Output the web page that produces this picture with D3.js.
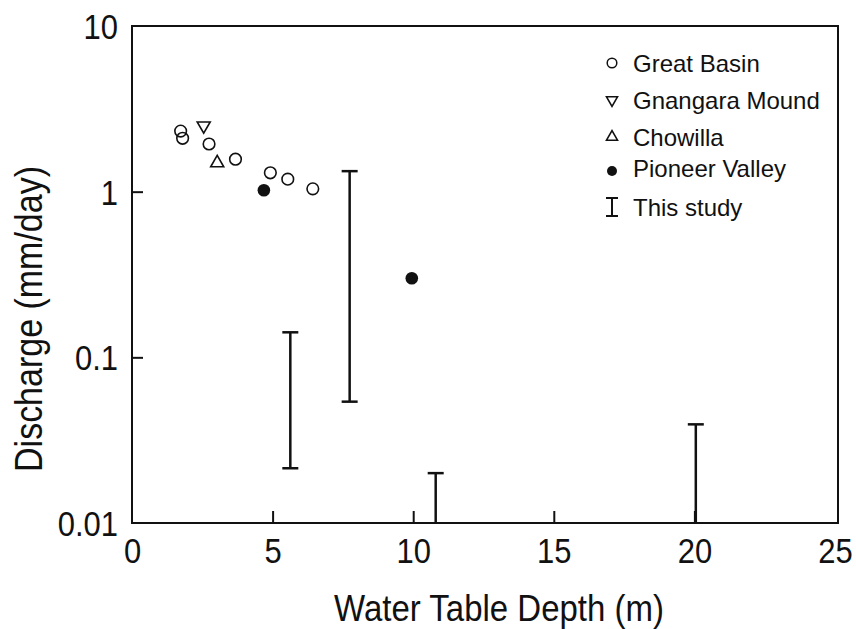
<!DOCTYPE html>
<html><head><meta charset="utf-8">
<script src="https://cdn.jsdelivr.net/npm/d3@7"></script>
<style>
html,body{margin:0;padding:0;background:#fff;}
text{font-family:"Liberation Sans",Arial,Helvetica,sans-serif;fill:#111;}
</style></head>
<body>
<svg id="c" width="856" height="629"></svg>
<script>
// ---- data ----
const greatBasinDepth = [1.73, 1.80, 2.74, 3.68, 4.92, 5.54, 6.43];
const greatBasinQ     = [2.32, 2.10, 1.94, 1.57, 1.30, 1.19, 1.04];
const gnangaraDepth = [2.55];
const gnangaraQ     = [2.50];
const chowillaDepth = [3.03];
const chowillaQ     = [1.49];
const pioneerDepth = [4.69, 9.95];
const pioneerQ     = [1.02, 0.30];
const studyDepth = [5.63, 7.74, 10.8, 20.05];
const studyLow   = [0.0214, 0.054, 0.01, 0.01];
const studyHigh  = [0.1416, 1.33, 0.020, 0.0394];
const xTicks = [0, 5, 10, 15, 20, 25];
const yTicks = [0.01, 0.1, 1, 10];
const yTickLabels = ["0.01", "0.1", "1", "10"];
const legendLabels = ["Great Basin", "Gnangara Mound", "Chowilla", "Pioneer Valley", "This study"];

// ---- layout ----
const L = 132, R = 838, T = 26, B = 523;
const S = 1.12; // vertical stretch of glyphs seen in the reference
const svg = d3.select("#c");
const x = d3.scaleLinear().domain([0, 25]).range([L, 835]);
const y = d3.scaleLog().domain([0.01, 10]).range([B, T]);

// frame
svg.append("rect").attr("x", L).attr("y", T).attr("width", R - L).attr("height", B - T)
  .attr("fill", "none").attr("stroke", "#111").attr("stroke-width", 2);

// x axis (ticks inward)
const xAxis = d3.axisBottom(x).tickValues(xTicks).tickFormat(d3.format("d")).tickSize(-12);
const gx = svg.append("g").attr("transform", `translate(0,${B})`).call(xAxis);
gx.select(".domain").remove();
gx.selectAll(".tick line").attr("stroke", "#111").attr("stroke-width", 2);
gx.selectAll(".tick text").attr("font-size", 31).attr("fill", "#111").attr("dy", "0.71em")
  .attr("y", 15 / S).attr("transform", `scale(1,${S})`);
gx.selectAll(".tick").filter(d => d === 0 || d === 25).select("line").remove();

// y axis
const yAxis = d3.axisLeft(y).tickValues(yTicks).tickFormat((d, i) => yTickLabels[i]).tickSize(-11).tickPadding(14);
const gy = svg.append("g").attr("transform", `translate(${L},0)`).call(yAxis);
gy.select(".domain").remove();
gy.selectAll(".tick line").attr("stroke", "#111").attr("stroke-width", 2);
gy.selectAll(".tick text").attr("font-size", 31).attr("fill", "#111").attr("dy", "0.36em")
  .attr("transform", `scale(1,${S})`);
gy.selectAll(".tick").filter(d => d === 0.01 || d === 10).select("line").remove();

// titles
svg.append("g").attr("transform", `translate(499,621) scale(1,${S})`)
  .append("text").attr("text-anchor", "middle").attr("font-size", 33).text("Water Table Depth (m)");
svg.append("g").attr("transform", `translate(42,319) rotate(-90) scale(1,${S})`)
  .append("text").attr("text-anchor", "middle").attr("font-size", 34).text("Discharge (mm/day)");

// symbols
function tri(g, cx, cy, s, down) {
  const h = s * Math.sqrt(3) / 2;
  const pts = down
    ? [[cx - s / 2, cy - h / 3], [cx + s / 2, cy - h / 3], [cx, cy + 2 * h / 3]]
    : [[cx - s / 2, cy + h / 3], [cx + s / 2, cy + h / 3], [cx, cy - 2 * h / 3]];
  g.append("path").attr("d", "M" + pts.map(p => p.join(",")).join("L") + "Z")
    .attr("fill", "#fff").attr("stroke", "#111").attr("stroke-width", 1.6);
}
const plot = svg.append("g");

// Great Basin open circles
plot.selectAll("circle.gb").data(greatBasinDepth).join("circle").attr("class", "gb")
  .attr("cx", d => x(d)).attr("cy", (d, i) => y(greatBasinQ[i])).attr("r", 5.8)
  .attr("fill", "none").attr("stroke", "#111").attr("stroke-width", 1.6);
// Gnangara (triangle down)
gnangaraDepth.forEach((d, i) => tri(plot, x(d), y(gnangaraQ[i]), 13, true));
// Chowilla (triangle up)
chowillaDepth.forEach((d, i) => tri(plot, x(d), y(chowillaQ[i]), 13, false));
// Pioneer filled
plot.selectAll("circle.pv").data(pioneerDepth).join("circle").attr("class", "pv")
  .attr("cx", d => x(d)).attr("cy", (d, i) => y(pioneerQ[i])).attr("r", 6.3).attr("fill", "#111");

// This study ranges
const bars = plot.selectAll("g.bar").data(studyDepth).join("g").attr("class", "bar");
bars.append("line").attr("x1", d => x(d)).attr("x2", d => x(d))
  .attr("y1", (d, i) => y(studyLow[i])).attr("y2", (d, i) => y(studyHigh[i]))
  .attr("stroke", "#111").attr("stroke-width", 2.5);
bars.append("line").attr("x1", d => x(d) - 8).attr("x2", d => x(d) + 8)
  .attr("y1", (d, i) => y(studyHigh[i])).attr("y2", (d, i) => y(studyHigh[i]))
  .attr("stroke", "#111").attr("stroke-width", 2.5);
bars.filter((d, i) => studyLow[i] > 0.01).append("line")
  .attr("x1", d => x(d) - 8).attr("x2", d => x(d) + 8)
  .attr("y1", (d, i) => y(studyLow[i])).attr("y2", (d, i) => y(studyLow[i]))
  .attr("stroke", "#111").attr("stroke-width", 2.5);

// legend
const legRows = [63, 100, 137, 168, 207];
const lx = 612, tx = 633;
const leg = svg.append("g");
legendLabels.forEach((lab, i) => {
  leg.append("text").attr("x", tx).attr("y", legRows[i]).attr("dy", "0.36em")
    .attr("font-size", 24).text(lab);
});
leg.append("circle").attr("cx", lx).attr("cy", legRows[0]).attr("r", 4.8)
  .attr("fill", "none").attr("stroke", "#111").attr("stroke-width", 1.5);
tri(leg, lx, legRows[1], 11, true);
tri(leg, lx, legRows[2], 11, false);
leg.append("circle").attr("cx", lx).attr("cy", legRows[3] + 3).attr("r", 5).attr("fill", "#111");
const ly = legRows[4];
leg.append("line").attr("x1", lx).attr("x2", lx).attr("y1", ly - 9).attr("y2", ly + 9)
  .attr("stroke", "#111").attr("stroke-width", 2);
leg.append("line").attr("x1", lx - 6).attr("x2", lx + 6).attr("y1", ly - 9).attr("y2", ly - 9)
  .attr("stroke", "#111").attr("stroke-width", 2);
leg.append("line").attr("x1", lx - 6).attr("x2", lx + 6).attr("y1", ly + 9).attr("y2", ly + 9)
  .attr("stroke", "#111").attr("stroke-width", 2);
</script>
</body></html>
